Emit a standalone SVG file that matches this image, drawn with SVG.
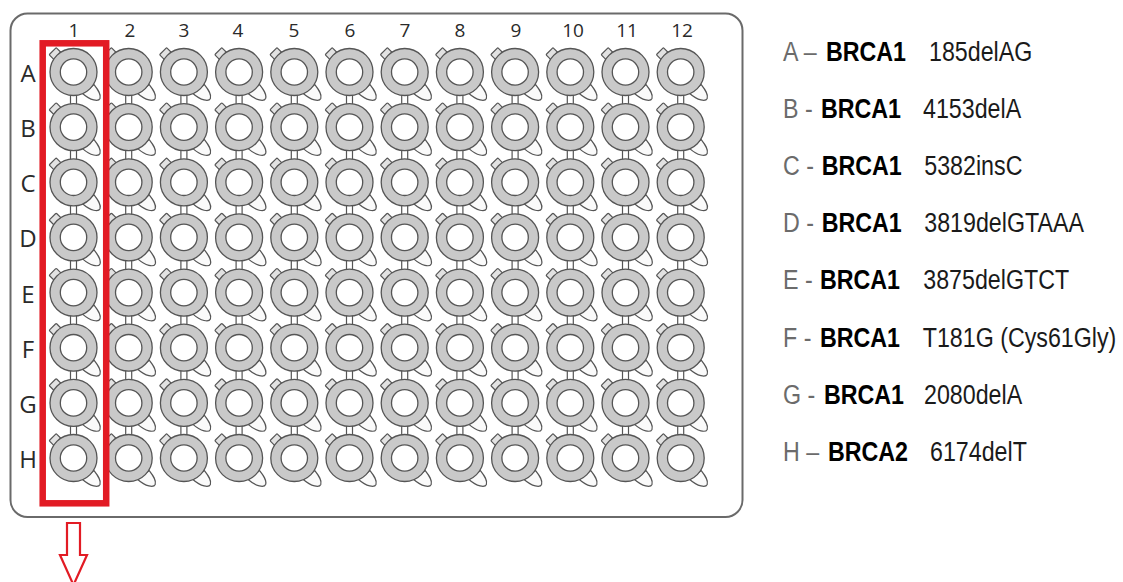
<svg xmlns="http://www.w3.org/2000/svg" xmlns:xlink="http://www.w3.org/1999/xlink" width="1123" height="582" viewBox="0 0 1123 582">
<style>
.plate{fill:#fff;stroke:#6a6a6a;stroke-width:2}
.ring{fill:#c9c9c9;stroke:#555;stroke-width:1.3}
.hole{fill:#fff;stroke:#555;stroke-width:1.3}
.tail{fill:#fafafa;stroke:#555;stroke-width:1.2}
.tab{fill:#e2e2e2;stroke:#555;stroke-width:1.2}
.bridge{fill:#fff;stroke:#555;stroke-width:1.2}
.lbl{font-family:"Open Sans","Noto Sans",sans-serif;fill:#2a2a2a;text-anchor:middle}
.col{font-size:19px}
.rowl{font-size:24px}
.red{fill:none;stroke:#e21b24;stroke-width:6.5}
.arrow{fill:#fff;stroke:#e21b24;stroke-width:2.2;stroke-linejoin:miter}
.leg{font-family:"Liberation Sans",Arial,sans-serif;font-size:28px}
.pre{fill:#6b6b6b}
.gene{fill:#000;font-weight:bold}
.mut{fill:#1a1a1a}
</style>
<defs>
<g id="well">
<path class="tail" d="M20.5,12.5 C24,17 28,22 26.5,26.5 C25,30 17,28.5 9,21.5 Z"/>
<rect class="tab" x="-5" y="-29.5" width="10" height="9" rx="1" transform="rotate(-45)"/>
<circle class="ring" r="23.5"/>
<circle class="hole" r="13.2"/>
</g>
<rect id="br" class="bridge" x="-3" y="22" width="6" height="11"/>
<g id="wellrow">
<use href="#well" x="73.5"/><use href="#well" x="128.7"/><use href="#well" x="183.9"/><use href="#well" x="239.1"/><use href="#well" x="294.3"/><use href="#well" x="349.5"/><use href="#well" x="404.7"/><use href="#well" x="459.9"/><use href="#well" x="515.1"/><use href="#well" x="570.3"/><use href="#well" x="625.5"/><use href="#well" x="680.7"/>
</g>
<g id="bridgerow">
<use href="#br" x="73.5"/><use href="#br" x="128.7"/><use href="#br" x="183.9"/><use href="#br" x="239.1"/><use href="#br" x="294.3"/><use href="#br" x="349.5"/><use href="#br" x="404.7"/><use href="#br" x="459.9"/><use href="#br" x="515.1"/><use href="#br" x="570.3"/><use href="#br" x="625.5"/><use href="#br" x="680.7"/>
</g>
</defs>

<g id="plate">
<rect class="plate" x="10.5" y="13.5" width="732" height="503.5" rx="17"/>
</g>

<g id="column-labels" class="lbl col">
<text x="74" y="37">1</text><text x="130" y="37">2</text><text x="184" y="37">3</text><text x="238" y="37">4</text><text x="294" y="37">5</text><text x="350" y="37">6</text><text x="405" y="37">7</text><text x="460" y="37">8</text><text x="516" y="37">9</text><text x="573" y="37">10</text><text x="627" y="37">11</text><text x="682" y="37">12</text>
</g>

<g id="row-labels" class="lbl rowl">
<text x="28" y="82">A</text><text x="28" y="137.1">B</text><text x="28" y="192.3">C</text><text x="28" y="247.4">D</text><text x="28" y="302.6">E</text><text x="28" y="357.7">F</text><text x="28" y="412.9">G</text><text x="28" y="468">H</text>
</g>

<g id="wells">
<use href="#bridgerow" y="72"/><use href="#bridgerow" y="127.1"/><use href="#bridgerow" y="182.3"/><use href="#bridgerow" y="237.4"/><use href="#bridgerow" y="292.6"/><use href="#bridgerow" y="347.7"/><use href="#bridgerow" y="402.9"/>
<use href="#wellrow" y="72"/><use href="#wellrow" y="127.1"/><use href="#wellrow" y="182.3"/><use href="#wellrow" y="237.4"/><use href="#wellrow" y="292.6"/><use href="#wellrow" y="347.7"/><use href="#wellrow" y="402.9"/><use href="#wellrow" y="458"/>
</g>

<g id="highlight">
<rect class="red" x="42.7" y="43.3" width="63.5" height="460"/>
</g>

<g id="connectors">
<path class="arrow" d="M67,523 H80 V555 H87 L73.5,585 L60,555 H67 Z"/>
</g>

<g id="legend" class="leg">
<g id="leg-a" transform="translate(783,61) scale(0.83,1)"><text><tspan class="pre" x="0">A –</tspan><tspan class="gene" x="51.8">BRCA1</tspan><tspan class="mut" x="175.9">185delAG</tspan></text></g>
<g id="leg-b" transform="translate(783,118.1) scale(0.83,1)"><text><tspan class="pre" x="0">B -</tspan><tspan class="gene" x="45.8">BRCA1</tspan><tspan class="mut" x="168.7">4153delA</tspan></text></g>
<g id="leg-c" transform="translate(783,175.2) scale(0.83,1)"><text><tspan class="pre" x="0">C -</tspan><tspan class="gene" x="46.6">BRCA1</tspan><tspan class="mut" x="170.2">5382insC</tspan></text></g>
<g id="leg-d" transform="translate(783,232.3) scale(0.83,1)"><text><tspan class="pre" x="0">D -</tspan><tspan class="gene" x="46.6">BRCA1</tspan><tspan class="mut" x="170.2">3819delGTAAA</tspan></text></g>
<g id="leg-e" transform="translate(783,289.4) scale(0.83,1)"><text><tspan class="pre" x="0">E -</tspan><tspan class="gene" x="44.6">BRCA1</tspan><tspan class="mut" x="169">3875delGTCT</tspan></text></g>
<g id="leg-f" transform="translate(783,346.5) scale(0.83,1)"><text><tspan class="pre" x="0">F -</tspan><tspan class="gene" x="44.6">BRCA1</tspan><tspan class="mut" x="168.3">T181G (Cys61Gly)</tspan></text></g>
<g id="leg-g" transform="translate(783,403.6) scale(0.83,1)"><text><tspan class="pre" x="0">G -</tspan><tspan class="gene" x="49.4">BRCA1</tspan><tspan class="mut" x="169.9">2080delA</tspan></text></g>
<g id="leg-h" transform="translate(783,460.7) scale(0.83,1)"><text><tspan class="pre" x="0">H –</tspan><tspan class="gene" x="54.2">BRCA2</tspan><tspan class="mut" x="177.1">6174delT</tspan></text></g>
</g>
</svg>
